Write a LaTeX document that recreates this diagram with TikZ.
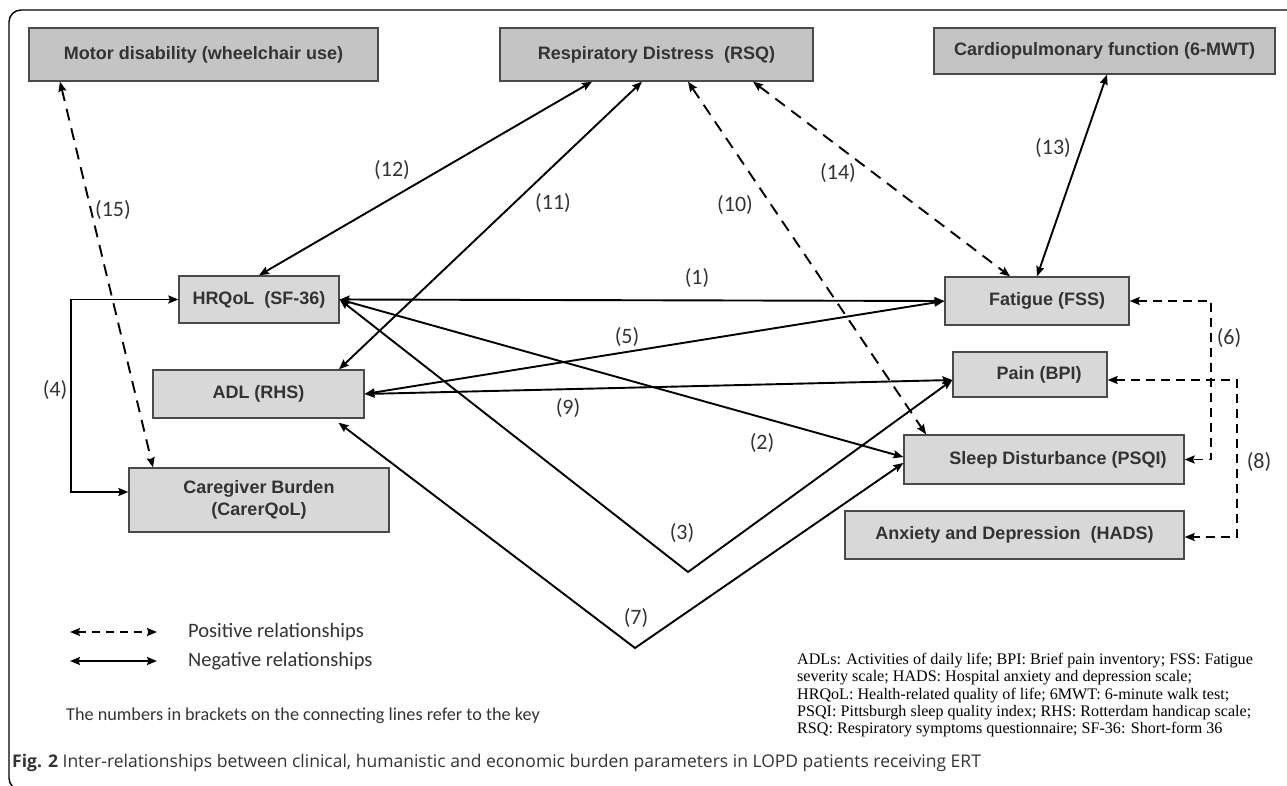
\documentclass[tikz,border=0pt]{standalone}
\usepackage{fontspec}
\setmainfont{Liberation Sans}
\newfontfamily\calib{Carlito}
\newfontfamily\tnr{Liberation Serif}
\newfontfamily\capf{Open Sans}
\usetikzlibrary{arrows.meta,calc}
\definecolor{topfill}{HTML}{C4C4C4}
\definecolor{midfill}{HTML}{D8D8D8}
\definecolor{edgec}{HTML}{4A4A4A}
\definecolor{txt}{HTML}{333333}
\tikzset{
  box/.style={draw=edgec, line width=1.3pt, inner sep=0pt, text=txt,
    font=\bfseries\fontsize{18}{22}\selectfont, align=center},
  topbox/.style={box, fill=topfill},
  midbox/.style={box, fill=midfill},
  rel/.style={line width=1.9pt, draw=black,
    {Stealth[length=10pt,width=8pt,inset=1.5pt]}-{Stealth[length=10pt,width=8pt,inset=1.5pt]}},
  posrel/.style={rel, dash pattern=on 12pt off 8pt},
  shortdash/.style={rel, dash pattern=on 9pt off 6pt},
  lbl/.style={font=\calib\fontsize{22}{25}\selectfont, text=txt, inner sep=0pt},
}
\begin{document}
\begin{tikzpicture}[x=1pt,y=-1pt]
\useasboundingbox (0,0) rectangle (1287,786);
\begin{scope}
\clip (0,0) rectangle (1287,786);
\draw[line width=1.4pt, rounded corners=12pt] (9,10) rectangle (1320,790);
\end{scope}

% nodes
\node[topbox, minimum width=349pt, minimum height=53pt] (motor) at (203.5,54.5) {Motor disability (wheelchair use)};
\node[topbox, minimum width=313pt, minimum height=53pt] (resp) at (656.5,54.5) {Respiratory Distress\ \ (RSQ)};
\node[topbox, minimum width=341pt, minimum height=46pt] (cardio) at (1104.5,51) {Cardiopulmonary function (6-MWT)};
\node[midbox, minimum width=160pt, minimum height=47pt] (hrq) at (259,299.5) {HRQoL\ \ (SF-36)};
\node[midbox, minimum width=211pt, minimum height=48pt] (adl) at (258.5,394) {ADL (RHS)};
\node[midbox, minimum width=260pt, minimum height=64pt] (care) at (259,500) {Caregiver Burden\\(CarerQoL)};
\node[midbox, minimum width=184pt, minimum height=48pt] (fat) at (1037,301) {\hspace*{20pt}Fatigue (FSS)};
\node[midbox, minimum width=154pt, minimum height=45pt] (pain) at (1030,374.5) {\hspace*{18pt}Pain (BPI)};
\node[midbox, minimum width=280pt, minimum height=49pt] (sleep) at (1044,459.5) {\hspace*{28pt}Sleep Disturbance (PSQI)};
\node[midbox, minimum width=339pt, minimum height=48pt] (anx) at (1014.5,535) {Anxiety and Depression\ \ (HADS)};

% helper coordinates
\coordinate (k4) at (71,400);
\coordinate (v3) at (688,572);
\coordinate (v7) at (635,648);
\coordinate (k6) at (1211,380);
\coordinate (k8) at (1237,460);

% connectors
\draw[rel] (hrq.north) -- ([xshift=-64.5pt]resp.south);
\draw[rel] ([xshift=80.5pt]adl.north) -- ([xshift=-14.5pt]resp.south);
\draw[posrel] ([xshift=31.5pt]resp.south) -- ([xshift=-118pt]sleep.north);
\draw[posrel] ([xshift=96.5pt]resp.south) -- ([xshift=-27pt]fat.north);
\draw[rel] ([xshift=2.5pt]cardio.south) -- (fat.north);
\draw[posrel] ([xshift=-143.5pt]motor.south) -- ([xshift=-106pt]care.north);
\draw[rel] (hrq.west) -| (k4) |- ([yshift=8pt]care.west);
\draw[rel] (hrq.east) -- (fat.west);
\draw[rel] (adl.east) -- (fat.west);
\draw[rel] (adl.east) -- ([yshift=-5.5pt]pain.west);
\draw[rel] (hrq.east) -- ([yshift=2.5pt]sleep.west);
\draw[rel] (hrq.east) -- (v3) -- ([yshift=-5.5pt]pain.west);
\draw[rel] ([xshift=80pt,yshift=-4pt]adl.south) -- (v7) -- ([yshift=-3.5pt]sleep.west);
\draw[shortdash] (fat.east) -| (k6) |- (sleep.east);
\draw[shortdash] ([yshift=-5.5pt]pain.east) -| (k8) |- ([yshift=-2pt]anx.east);

% labels
\node[lbl] (l12) at (392,170) {(12)};
\node[lbl] (l11) at (553,203) {(11)};
\node[lbl] (l10) at (735,205) {(10)};
\node[lbl] (l14) at (838,173) {(14)};
\node[lbl] (l13) at (1053,148) {(13)};
\node[lbl] (l15) at (113,210) {(15)};
\node[lbl] (l4) at (55,390) {(4)};
\node[lbl] (l1) at (697,278) {(1)};
\node[lbl] (l5) at (627,337) {(5)};
\node[lbl] (l9) at (568,408) {(9)};
\node[lbl] (l2) at (762,443) {(2)};
\node[lbl] (l3) at (682,533) {(3)};
\node[lbl] (l7) at (636,618) {(7)};
\node[lbl] (l6) at (1229,338) {(6)};
\node[lbl] (l8) at (1259,462) {(8)};

% legend
\coordinate (p1) at (70,632);
\coordinate (p2) at (157,632);
\coordinate (n1) at (70,661);
\coordinate (n2) at (157,661);
\draw[shortdash, dash pattern=on 8pt off 6pt] (p1) -- (p2);
\draw[rel] (n1) -- (n2);
\node[lbl, anchor=west, font=\calib\fontsize{20.5}{24}\selectfont] (tpos) at (188,632) {Positive relationships};
\node[lbl, anchor=west, font=\calib\fontsize{20.5}{24}\selectfont] (tneg) at (188,661) {Negative relationships};
\node[lbl, anchor=west, font=\calib\fontsize{18.2}{21}\selectfont] (tnum) at (66,716) {The numbers in brackets on the connecting lines refer to the key};

% footnote
\node[anchor=north west, inner sep=0pt, align=left, font=\tnr\fontsize{16.1}{17.3}\selectfont] (foot) at (797,653)
 {ADLs: Activities of daily life; BPI: Brief pain inventory; FSS: Fatigue\\
  severity scale; HADS: Hospital anxiety and depression scale;\\
  HRQoL: Health-related quality of life; 6MWT: 6-minute walk test;\\
  PSQI: Pittsburgh sleep quality index; RHS: Rotterdam handicap scale;\\
  RSQ: Respiratory symptoms questionnaire; SF-36: Short-form 36};

% caption
\node[anchor=west, inner sep=0pt, font=\capf\fontsize{17.5}{20}\selectfont, text=txt] (cap) at (12,763)
 {\textbf{Fig. 2} Inter-relationships between clinical, humanistic and economic burden parameters in LOPD patients receiving ERT};
\end{tikzpicture}
\end{document}
